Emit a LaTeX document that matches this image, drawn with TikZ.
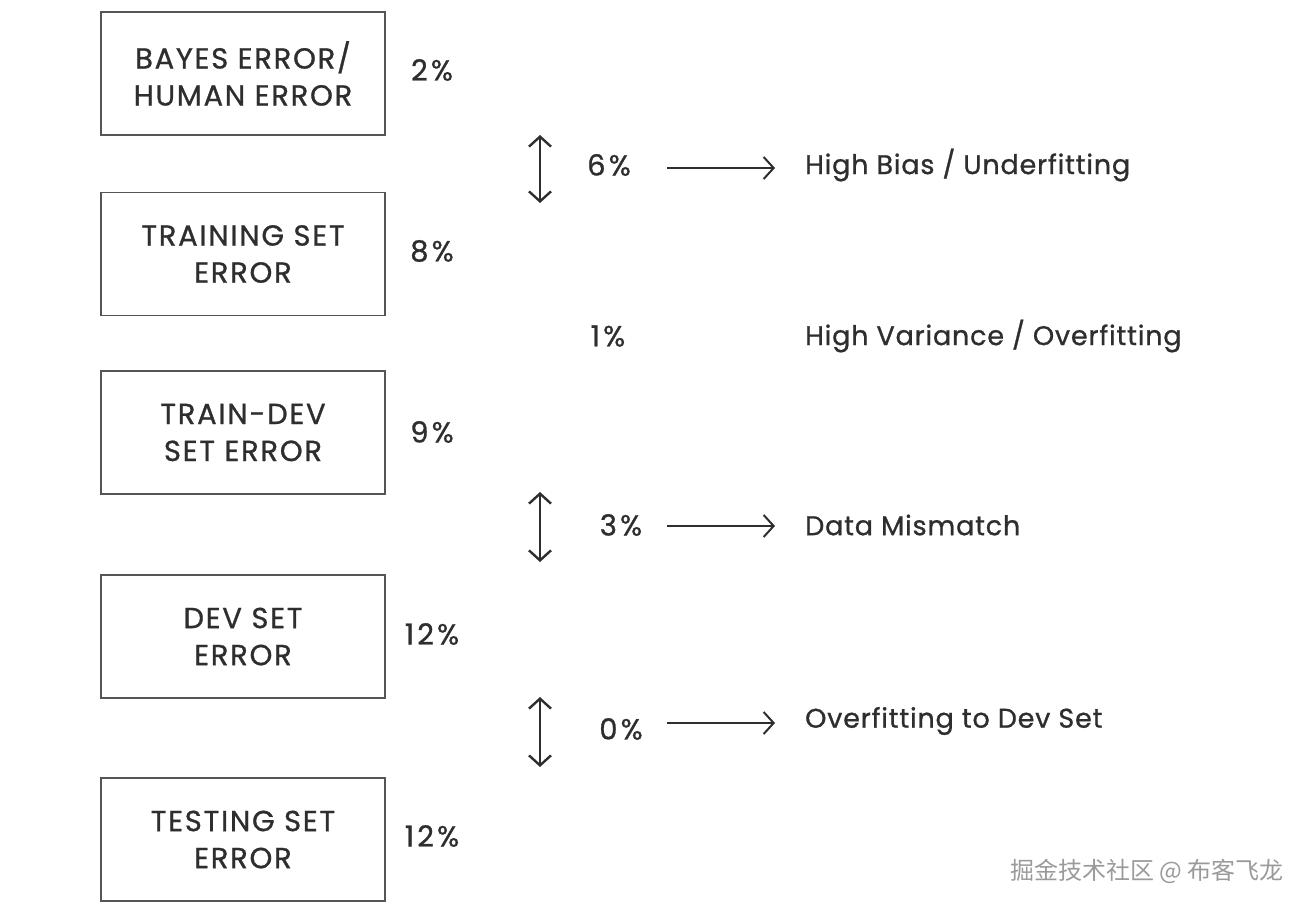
\documentclass[tikz,border=0pt]{standalone}
\usepackage{fontspec}
\setmainfont{Poppins}[FakeBold=0.9]
\newfontfamily\cjk{Noto Sans CJK SC}
\usetikzlibrary{arrows.meta}
\definecolor{ink}{HTML}{2E2E2E}
\definecolor{frame}{HTML}{555555}
\definecolor{wm}{HTML}{9A9A9A}
\tikzset{
  box/.style={draw=frame, line width=1.2pt, minimum width=284pt, minimum height=123pt, inner sep=0pt, align=center, text=ink, font=\fontsize{29}{37}\selectfont\addfontfeature{LetterSpace=6}},
  pct/.style={text=ink, font=\fontsize{29}{30}\selectfont\addfontfeature{LetterSpace=11}, inner sep=0pt},
  lbl/.style={text=ink, font=\fontsize{27}{30}\selectfont\addfontfeature{LetterSpace=3}, inner sep=0pt, anchor=west},
  darr/.style={draw=ink, line width=2.4pt, {Straight Barb[length=10pt,width=22pt]}-{Straight Barb[length=10pt,width=22pt]}},
  rarr/.style={draw=ink, line width=2pt, -{Straight Barb[length=10pt,width=22pt]}}
}
\begin{document}
\begin{tikzpicture}[x=1pt,y=1pt]
\useasboundingbox (0,0) rectangle (1314,-910);
% boxes
\node[box] (b1) at (243,-73.5) {BAYES ERROR/\\HUMAN ERROR};
\node[box] (b2) at (243,-254) {TRAINING SET\\ERROR};
\node[box] (b3) at (243,-432.5) {TRAIN-DEV\\SET ERROR};
\node[box] (b4) at (243,-636.5) {DEV SET\\ERROR};
\node[box] (b5) at (243,-839.5) {TESTING SET\\ERROR};
% percentages
\node[pct] (p1) at (432,-70) {2\%};
\node[pct] (p2) at (432,-251) {8\%};
\node[pct] (p3) at (432,-432) {9\%};
\node[pct] (p4) at (432,-634) {12\%};
\node[pct] (p5) at (432,-836) {12\%};
% double arrows
\coordinate (a1t) at (540,-135);
\coordinate (a1b) at (540,-203);
\coordinate (a2t) at (540,-492);
\coordinate (a2b) at (540,-562);
\coordinate (a3t) at (540,-697);
\coordinate (a3b) at (540,-767);
\draw[darr] (a1t) -- (a1b);
\draw[darr] (a2t) -- (a2b);
\draw[darr] (a3t) -- (a3b);
% gaps
\node[pct] (g1) at (609,-165) {6\%};
\node[pct] (g2) at (608,-336) {1\%};
\node[pct] (g3) at (621,-525) {3\%};
\node[pct] (g4) at (621,-729) {0\%};
% labels
\node[lbl] (l1) at (805,-165) {High Bias / Underfitting};
\node[lbl] (l2) at (805,-336) {High Variance / Overfitting};
\node[lbl] (l3) at (805,-525) {Data Mismatch};
\node[lbl] (l4) at (805,-721) {Overfitting to Dev Set};
% right arrows
\coordinate (r1s) at (667,-168);
\coordinate (r1e) at (775,-168);
\coordinate (r2s) at (667,-526);
\coordinate (r2e) at (775,-526);
\coordinate (r3s) at (667,-723);
\coordinate (r3e) at (775,-723);
\draw[rarr] (r1s) -- (r1e);
\draw[rarr] (r2s) -- (r2e);
\draw[rarr] (r3s) -- (r3e);
% watermark
\node[text=wm, font=\cjk\fontsize{24}{28}\selectfont, inner sep=0pt] (wmk) at (1147,-871) {掘金技术社区 @ 布客飞龙};
\end{tikzpicture}
\end{document}
